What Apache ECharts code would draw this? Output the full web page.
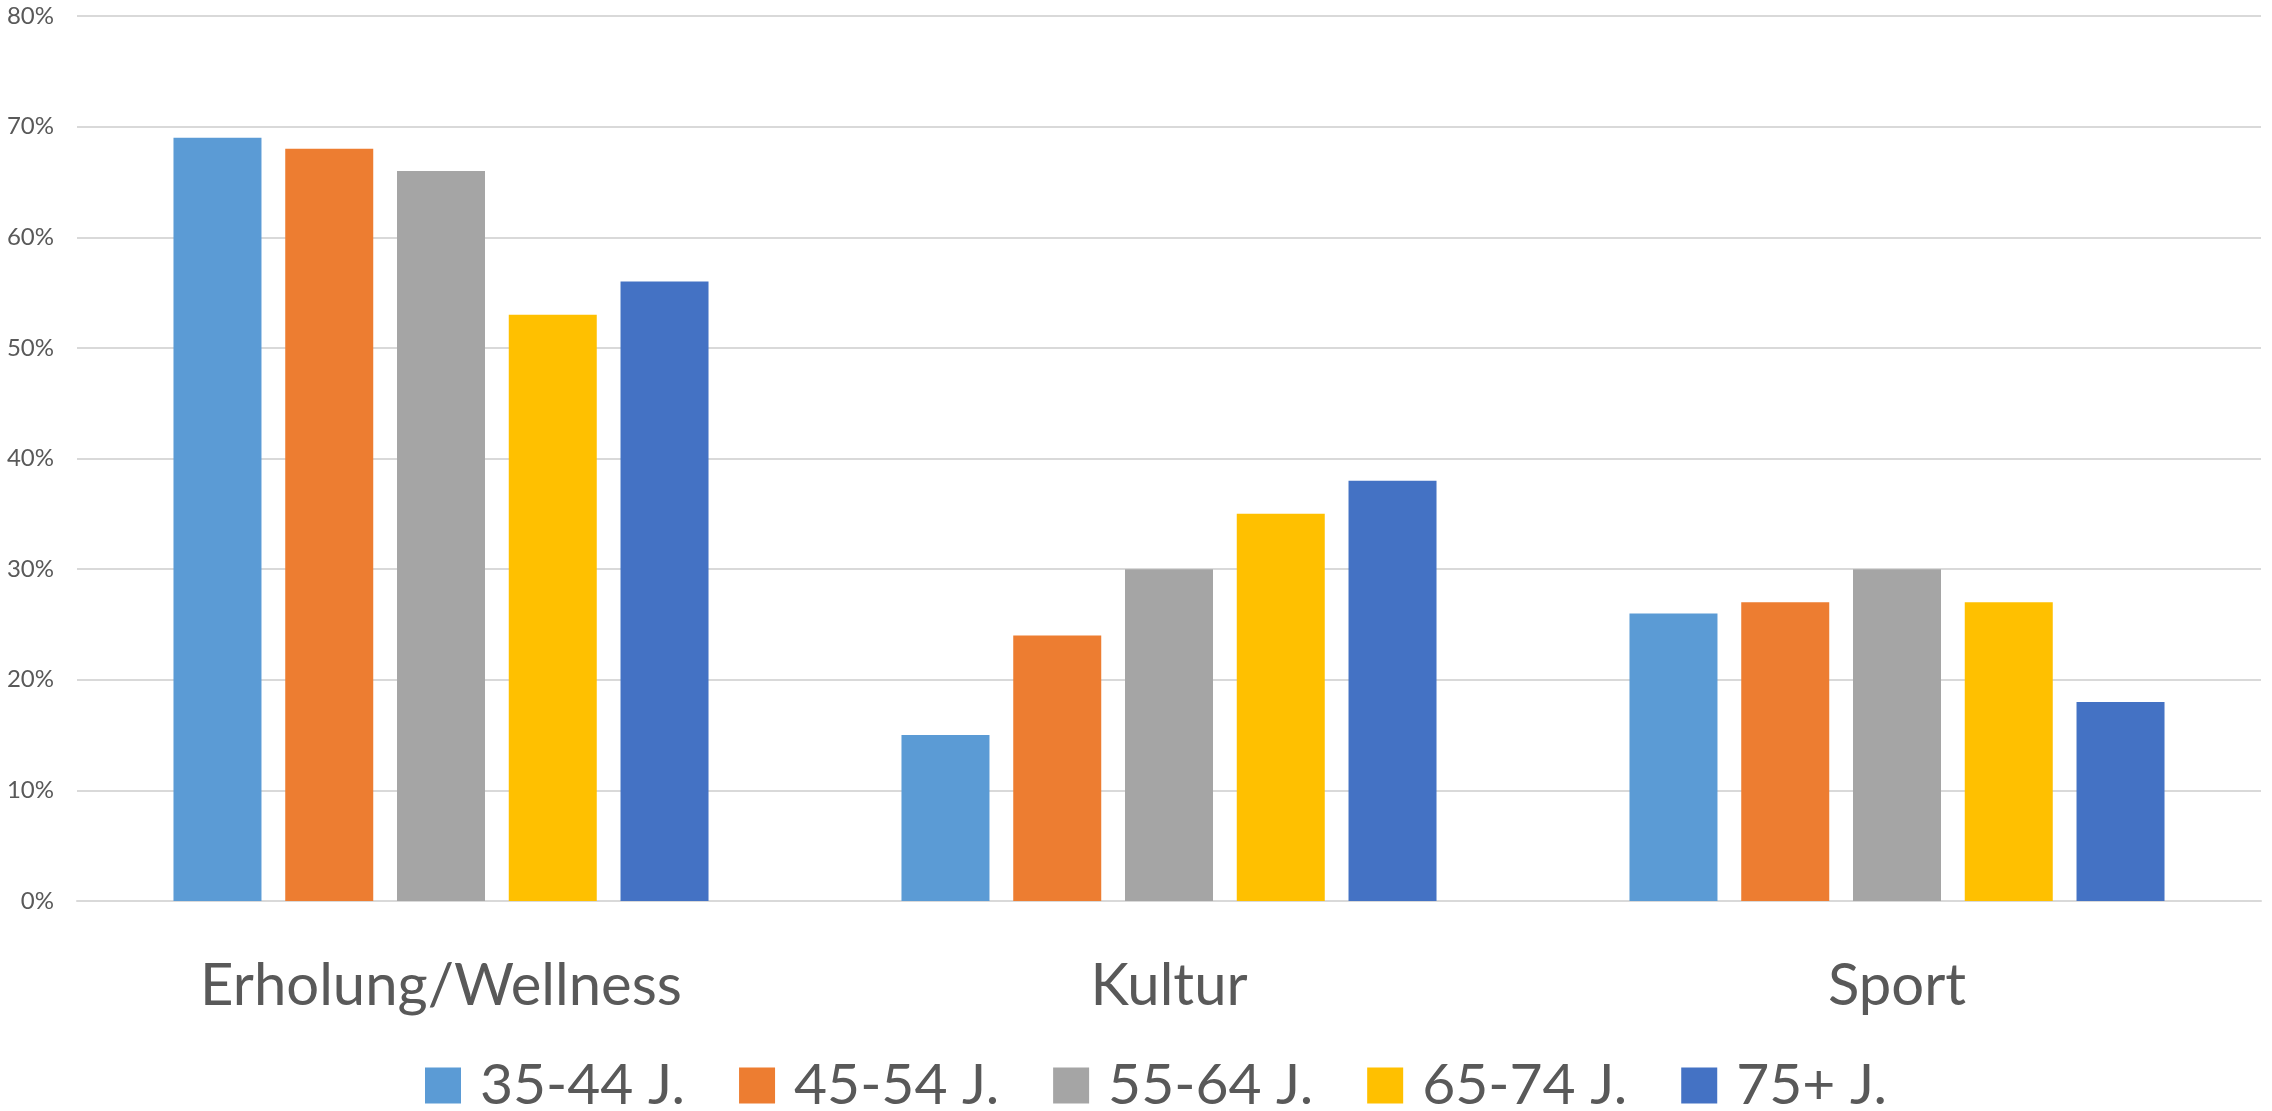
<!DOCTYPE html>
<html>
<head>
<meta charset="utf-8">
<script src="https://cdn.jsdelivr.net/npm/echarts@6/dist/echarts.min.js"></script>
<style>
  html, body { margin: 0; padding: 0; background: #fff; }
  #main { width: 2272px; height: 1111px; }
</style>
</head>
<body>
<div id="main"></div>
<script>
// Daten
var categories = ['Erholung/Wellness', 'Kultur', 'Sport'];
var ageGroups = ['35-44 J.', '45-54 J.', '55-64 J.', '65-74 J.', '75+ J.'];
var colors = ['#5B9BD5', '#ED7D31', '#A5A5A5', '#FFC000', '#4472C4'];
var val_35_44 = [69, 15, 26];
var val_45_54 = [68, 24, 27];
var val_55_64 = [66, 30, 30];
var val_65_74 = [53, 35, 27];
var val_75plus = [56, 38, 18];
var allValues = [val_35_44, val_45_54, val_55_64, val_65_74, val_75plus];

var myChart = echarts.init(document.getElementById('main'));

var series = ageGroups.map(function (name, i) {
    return {
        name: name,
        type: 'bar',
        barWidth: 88,
        barGap: '27%',
        itemStyle: { color: colors[i] },
        data: allValues[i]
    };
});

var option = {
    animation: false,
    color: colors,
    textStyle: { fontFamily: 'Lato', color: '#595959' },
    grid: { left: 77, right: 11, top: 16, bottom: 210 },
    legend: {
        data: ageGroups,
        top: 1057,
        left: 425,
        padding: 0,
        icon: 'rect',
        itemWidth: 36,
        itemHeight: 36,
        itemGap: 54,
        selectedMode: false,
        textStyle: {
            fontFamily: 'Lato',
            fontSize: 57,
            color: '#595959',
            padding: [0, 0, 0, 14]
        }
    },
    xAxis: {
        type: 'category',
        data: categories,
        axisLine: { lineStyle: { color: '#d9d9d9', width: 2 } },
        axisTick: { show: false },
        axisLabel: {
            fontFamily: 'Lato',
            fontSize: 58,
            color: '#595959',
            margin: 56
        }
    },
    yAxis: {
        type: 'value',
        min: 0,
        max: 80,
        interval: 10,
        axisLine: { show: false },
        axisTick: { show: false },
        splitLine: { lineStyle: { color: '#d9d9d9', width: 2 } },
        axisLabel: {
            formatter: '{value}%',
            fontFamily: 'Lato',
            fontSize: 24,
            color: '#595959',
            margin: 23
        }
    },
    series: series
};

myChart.setOption(option);
</script>
</body>
</html>
